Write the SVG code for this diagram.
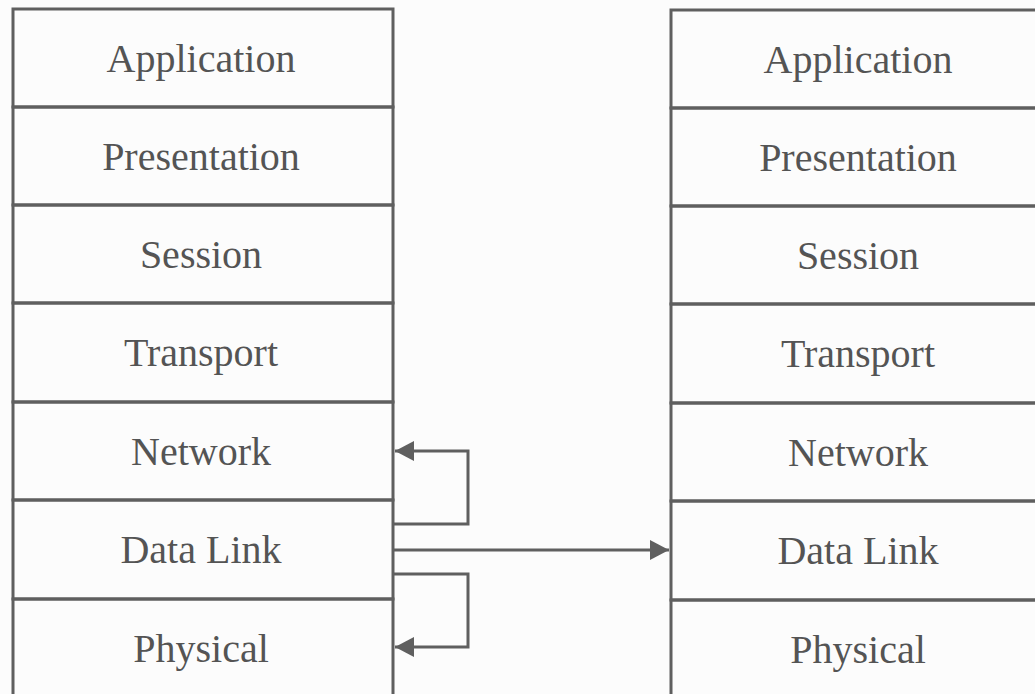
<svg xmlns="http://www.w3.org/2000/svg" width="1035" height="694" viewBox="0 0 1035 694">
  <style>
    .layer { fill: none; stroke: #5f5f5f; stroke-width: 3; }
    .label { font-family: "Liberation Serif", "DejaVu Serif", serif; font-size: 40px; fill: #545454; text-anchor: middle; }
    .link { fill: none; stroke: #5f5f5f; stroke-width: 3; }
  </style>
  <defs>
    <marker id="head" viewBox="0 0 19 20" refX="19" refY="10" markerWidth="19" markerHeight="20" markerUnits="userSpaceOnUse" orient="auto">
      <path d="M0,0 L19,10 L0,20 z" fill="#5f5f5f"/>
    </marker>
  </defs>
  <rect width="1035" height="694" fill="#fcfcfc"/>

  <!-- left protocol stack -->
  <g id="left-stack">
    <g id="left-application"><rect class="layer" x="13" y="9" width="380" height="98"/><text class="label" x="201" y="72">Application</text></g>
    <g id="left-presentation"><rect class="layer" x="13" y="107" width="380" height="98"/><text class="label" x="201" y="170">Presentation</text></g>
    <g id="left-session"><rect class="layer" x="13" y="205" width="380" height="98"/><text class="label" x="201" y="268">Session</text></g>
    <g id="left-transport"><rect class="layer" x="13" y="303" width="380" height="99"/><text class="label" x="201" y="366">Transport</text></g>
    <g id="left-network"><rect class="layer" x="13" y="402" width="380" height="98"/><text class="label" x="201" y="465">Network</text></g>
    <g id="left-datalink"><rect class="layer" x="13" y="500" width="380" height="99"/><text class="label" x="201" y="563">Data Link</text></g>
    <g id="left-physical"><rect class="layer" x="13" y="599" width="380" height="100"/><text class="label" x="201" y="662">Physical</text></g>
  </g>

  <!-- right protocol stack -->
  <g id="right-stack">
    <g id="right-application"><rect class="layer" x="671" y="10" width="380" height="98"/><text class="label" x="858" y="73">Application</text></g>
    <g id="right-presentation"><rect class="layer" x="671" y="108" width="380" height="98"/><text class="label" x="858" y="171">Presentation</text></g>
    <g id="right-session"><rect class="layer" x="671" y="206" width="380" height="98"/><text class="label" x="858" y="269">Session</text></g>
    <g id="right-transport"><rect class="layer" x="671" y="304" width="380" height="99"/><text class="label" x="858" y="367">Transport</text></g>
    <g id="right-network"><rect class="layer" x="671" y="403" width="380" height="98"/><text class="label" x="858" y="466">Network</text></g>
    <g id="right-datalink"><rect class="layer" x="671" y="501" width="380" height="99"/><text class="label" x="858" y="564">Data Link</text></g>
    <g id="right-physical"><rect class="layer" x="671" y="600" width="380" height="100"/><text class="label" x="858" y="663">Physical</text></g>
  </g>

  <!-- connectors -->
  <g id="connectors">
    <path class="link" d="M393,524 H468 V451 H395" marker-end="url(#head)"/>
    <path class="link" d="M393,550 H669" marker-end="url(#head)"/>
    <path class="link" d="M393,574 H468 V647 H395" marker-end="url(#head)"/>
  </g>
</svg>
